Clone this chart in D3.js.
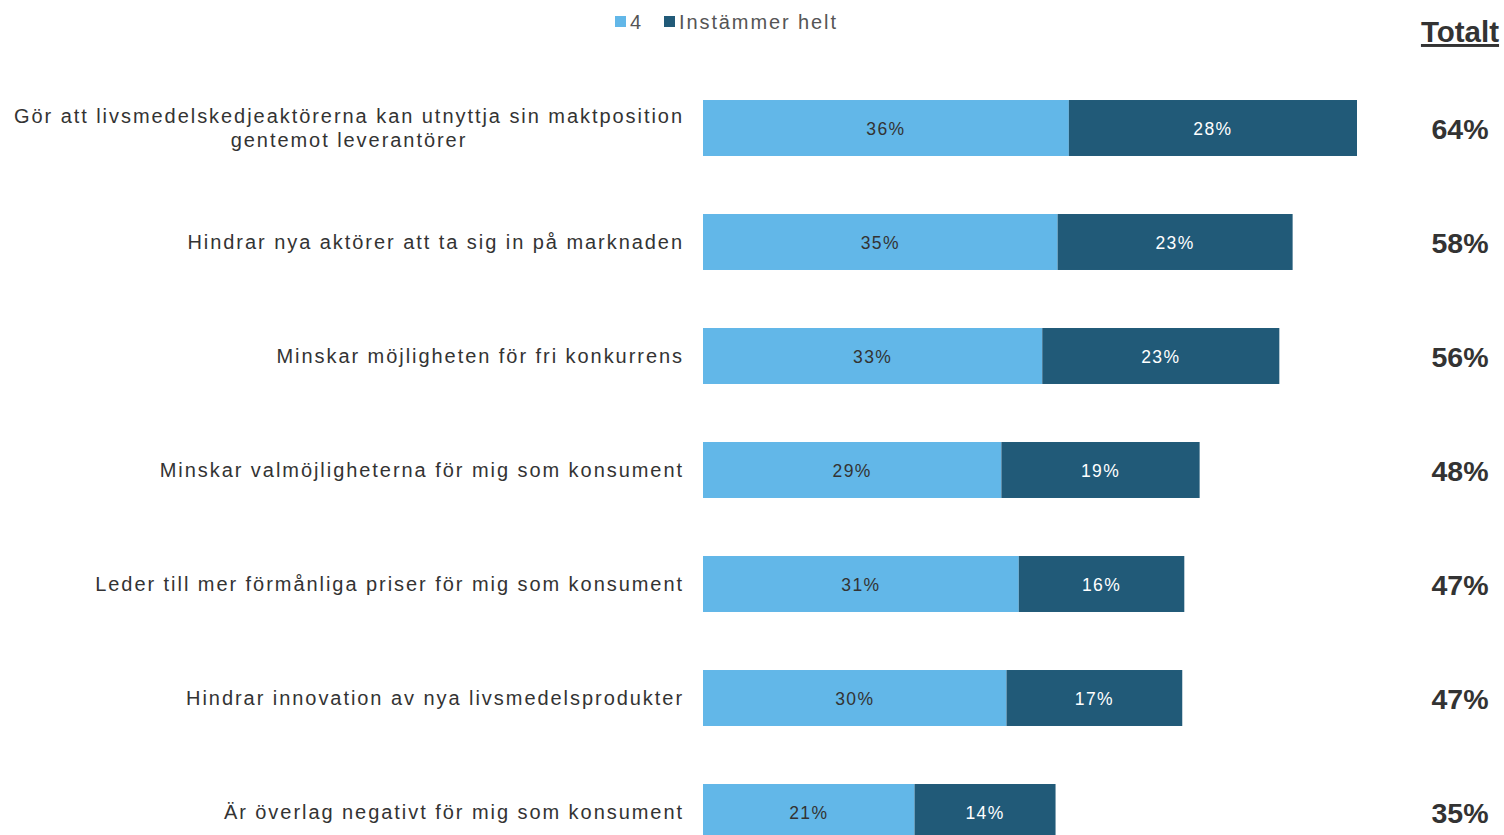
<!DOCTYPE html>
<html><head><meta charset="utf-8">
<script src="https://cdn.jsdelivr.net/npm/d3@7"></script>
<style>body{margin:0;background:#fff;} svg{display:block;}</style>
</head><body>
<svg id="c" width="1504" height="835"></svg>
<script>
const categories = [
  ["Gör att livsmedelskedjeaktörerna kan utnyttja sin maktposition", "gentemot leverantörer"],
  ["Hindrar nya aktörer att ta sig in på marknaden"],
  ["Minskar möjligheten för fri konkurrens"],
  ["Minskar valmöjligheterna för mig som konsument"],
  ["Leder till mer förmånliga priser för mig som konsument"],
  ["Hindrar innovation av nya livsmedelsprodukter"],
  ["Är överlag negativt för mig som konsument"]
];
const seriesNames = ["4", "Instämmer helt"];
const values4 = [35.8, 34.7, 33.2, 29.2, 30.9, 29.7, 20.7];
const valuesHelt = [28.2, 23.0, 23.2, 19.4, 16.2, 17.2, 13.8];
const totals = [64, 58, 56, 48, 47, 47, 35];
const colors = ["#62b7e8", "#215a78"];

const svg = d3.select("#c");
const font = "'Liberation Sans', Arial, sans-serif";

const x = d3.scaleLinear().domain([0, 64]).range([703, 1357]);
const y = d3.scaleBand().domain(d3.range(categories.length)).range([71, 869]).paddingInner(0.509).paddingOuter(0.2545);

const stackData = categories.map((c, i) => ({i, a: values4[i], b: valuesHelt[i]}));
const stack = d3.stack().keys(["a", "b"])(stackData);
const fmt = d3.format(".0f");

const g = svg.append("g");
stack.forEach((layer, li) => {
  g.selectAll(null).data(layer).enter().append("rect")
    .attr("x", d => x(d[0]))
    .attr("y", d => y(d.data.i))
    .attr("width", d => x(d[1]) - x(d[0]))
    .attr("height", y.bandwidth())
    .attr("fill", colors[li]);
  g.selectAll(null).data(layer).enter().append("text")
    .attr("x", d => (x(d[0]) + x(d[1])) / 2)
    .attr("y", d => y(d.data.i) + y.bandwidth() / 2 + 1)
    .attr("dy", "0.35em")
    .attr("text-anchor", "middle")
    .attr("font-family", font)
    .attr("font-size", 17.5)
    .attr("letter-spacing", 1.4)
    .attr("fill", li === 0 ? "#333333" : "#ffffff")
    .text(d => fmt(d[1] - d[0]) + "%");
});

// category labels (block right-aligned, lines centered within block)
const labelRight = 682;
categories.forEach((lines, i) => {
  const cy = y(i) + y.bandwidth() / 2;
  const t = svg.append("text")
    .attr("font-family", font)
    .attr("font-size", 20)
    .attr("letter-spacing", 1.95)
    .attr("fill", "#333333");
  const lh = 24;
  const spans = lines.map((ln, k) => t.append("tspan")
      .attr("y", cy + (k - (lines.length - 1) / 2) * lh)
      .attr("dy", "0.35em")
      .text(ln));
  const widths = spans.map(s => s.node().getComputedTextLength());
  const maxW = d3.max(widths);
  if (lines.length === 1) {
    t.attr("text-anchor", "end");
    spans[0].attr("x", labelRight + 2);
  } else {
    t.attr("text-anchor", "middle");
    spans.forEach(s => s.attr("x", labelRight + 2 - maxW / 2));
  }
});

// totals
svg.append("text")
  .attr("x", 1460).attr("y", 42)
  .attr("text-anchor", "middle")
  .attr("font-family", font).attr("font-size", 29.5).attr("font-weight", "bold")
  .attr("fill", "#333333")
  .attr("text-decoration", "underline")
  .text("Totalt");
svg.selectAll(null).data(totals).enter().append("text")
  .attr("x", 1460)
  .attr("y", (d, i) => y(i) + y.bandwidth() / 2 + 1)
  .attr("dy", "0.35em")
  .attr("text-anchor", "middle")
  .attr("font-family", font).attr("font-size", 28.5).attr("font-weight", "bold")
  .attr("fill", "#333333")
  .text(d => d + "%");

// legend
const legendX = [615, 664];
seriesNames.forEach((n, i) => {
  svg.append("rect").attr("x", legendX[i]).attr("y", 16).attr("width", 11).attr("height", 11).attr("fill", colors[i]);
  svg.append("text").attr("x", legendX[i] + 15).attr("y", 22).attr("dy", "0.35em")
    .attr("font-family", font).attr("font-size", 20).attr("letter-spacing", 1.9)
    .attr("fill", "#555555").text(n);
});
</script>
</body></html>
